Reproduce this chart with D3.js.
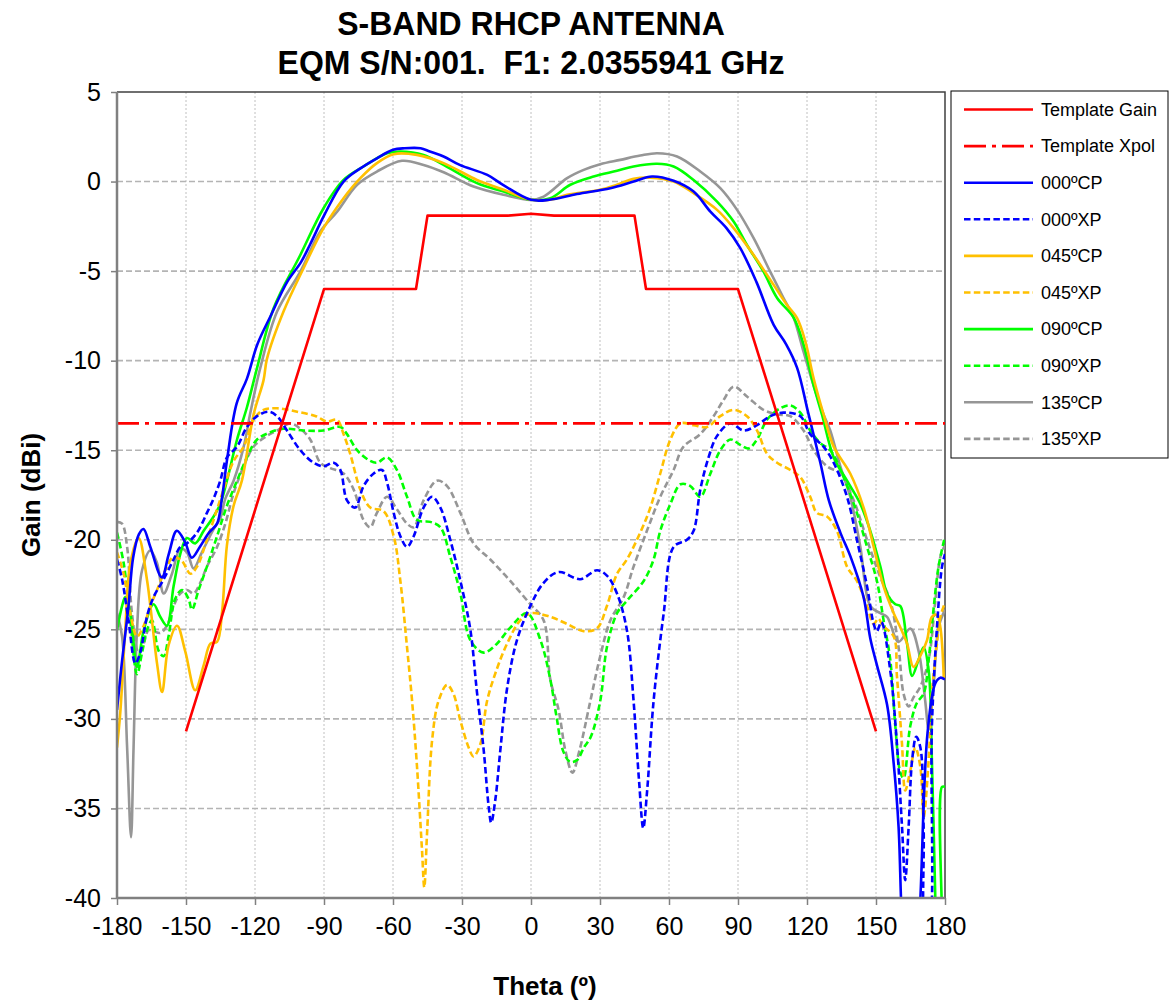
<!DOCTYPE html>
<html>
<head>
<meta charset="utf-8">
<script src="https://cdn.jsdelivr.net/npm/d3@7"></script>
<style>
  html, body { margin: 0; padding: 0; background: #ffffff; }
  svg { display: block; }
  text { font-family: "Liberation Sans", Arial, Helvetica, sans-serif; fill: #000; }
</style>
</head>
<body>
<svg id="chart" width="1176" height="1000"></svg>
<script>
// ---- Data: theta (deg) / gain (dBi) pairs ----
const titleLines = ["S-BAND RHCP ANTENNA", "EQM S/N:001.  F1: 2.0355941 GHz"];
const xTicks = [-180, -150, -120, -90, -60, -30, 0, 30, 60, 90, 120, 150, 180];
const yTicks = [5, 0, -5, -10, -15, -20, -25, -30, -35, -40];

const templateGain = [[-150,-30.7],[-90,-6],[-50,-6],[-45,-1.9],[-10,-1.9],[0,-1.8],[10,-1.9],[45,-1.9],[50,-6],[90,-6],[150,-30.7]];
const templateXpol = [[-180,-13.5],[180,-13.5]];

const cp000 = [[-180,-29.5],[-178,-27],[-175,-23.7],[-173,-21],[-170.5,-19.7],[-168.5,-19.4],[-165.5,-20.4],[-160.5,-22.1],[-157.5,-20.8],[-154,-19.5],[-150.5,-20.1],[-147.5,-21],[-144,-20.4],[-140,-19.6],[-136.5,-19.1],[-134.5,-17.8],[-132,-15.4],[-128,-12.4],[-123.5,-11],[-119,-9.1],[-113,-7.45],[-106,-5.6],[-100,-4.5],[-96,-3.5],[-90,-1.9],[-81.5,0],[-74,0.75],[-67,1.3],[-60,1.77],[-55,1.86],[-48,1.86],[-44,1.68],[-38,1.4],[-31,0.93],[-19,0.37],[-12,-0.2],[0,-1.02],[8,-1.02],[20,-0.7],[34.5,-0.37],[44.6,0],[52.6,0.28],[62,0.04],[70.7,-0.56],[78,-1.68],[85,-2.6],[91,-3.72],[98,-5.6],[105.5,-8.0],[111,-9.1],[115.7,-10.4],[120.5,-12.9],[125.8,-15.7],[129.5,-17.8],[134.5,-19.6],[138.8,-20.9],[144.6,-23.2],[147.5,-25.5],[150.4,-27],[154.8,-29.2],[157.7,-32.5],[159.8,-36],[161,-40.5],[163,-46],[167,-46],[169.3,-40],[172.4,-30.8],[175.8,-28],[178,-27.7],[180,-27.8]];

const cp045 = [[-180,-31.6],[-178.6,-29.7],[-176.4,-25],[-174.2,-21.3],[-170.6,-19.9],[-167,-22.2],[-162.6,-26.9],[-160.4,-28.5],[-157.6,-25.9],[-153.9,-24.8],[-150.3,-26.25],[-146,-28.4],[-142.3,-27],[-139.4,-25.8],[-136.5,-25.7],[-134.3,-24],[-132.2,-20.3],[-129.3,-18.1],[-125.7,-16.7],[-120.6,-13],[-116.3,-11.1],[-114.8,-9.9],[-107.6,-7.26],[-98.9,-4.84],[-90.2,-2.6],[-81.5,-0.93],[-74.2,0.19],[-67,1.03],[-59.7,1.53],[-49.6,1.49],[-38,1.03],[-23.5,0.09],[-11.9,-0.46],[0,-1.02],[8.4,-1.02],[15.7,-0.74],[30.1,-0.46],[37.4,-0.18],[44.6,0.15],[51.9,0.22],[62,0],[70.7,-0.65],[80.9,-1.58],[88.1,-2.6],[96.8,-4.1],[105.5,-5.77],[111.3,-6.89],[115.7,-7.63],[119.3,-8.94],[122.9,-11],[127.2,-13],[131.6,-14.8],[138.8,-16.3],[144.6,-18.2],[149,-20.4],[153.3,-22.6],[157.7,-24.1],[160.6,-24.9],[163.5,-25.8],[166.3,-27.1],[169.2,-26.5],[172.2,-25.6],[174.3,-24.3],[176.5,-24.2],[178,-24.9],[179.5,-27.8]];

const cp090 = [[-180,-25.05],[-177.8,-23.7],[-176.4,-23.2],[-174.2,-24.1],[-171.3,-27.1],[-168.4,-25.05],[-164.1,-23.6],[-161.2,-24.3],[-158.3,-24.8],[-155.4,-22.6],[-152.5,-20.8],[-149.6,-19.9],[-146,-20.2],[-142.3,-19.5],[-138,-18.7],[-135.1,-18],[-132.2,-16.7],[-127.8,-14.4],[-123.5,-12.6],[-119.1,-10.4],[-111.9,-7.07],[-100.3,-4.1],[-90.2,-1.49],[-81.5,0.09],[-72.8,0.84],[-62.6,1.58],[-56.8,1.68],[-46.7,1.49],[-38,0.93],[-23.5,-0.09],[-11.9,-0.56],[0,-1.02],[8.4,-0.93],[17.1,-0.18],[27.2,0.28],[37.4,0.6],[44.6,0.84],[54.8,0.99],[62,0.84],[70.7,0.09],[80.9,-1.12],[88.1,-2.23],[93.9,-3.54],[101.1,-5.03],[107,-6.5],[114.2,-7.6],[118.5,-9.1],[122.9,-11.4],[126.5,-13],[131.6,-15.4],[137.4,-16.7],[143.2,-18],[147.5,-19.5],[151.9,-21.5],[154.8,-23],[158.4,-23.6],[160.6,-23.7],[163.5,-25.8],[165.7,-27.6],[168.5,-26.7],[170.7,-26],[172.9,-27.3],[174.3,-32.3],[175.8,-40.1],[177,-46],[178.3,-46],[178.7,-33.8],[180,-33.8]];

const cp135 = [[-180,-24.1],[-177.8,-25.4],[-175.6,-31.6],[-173.9,-36.6],[-172.8,-31.6],[-171.3,-25.05],[-169.1,-21.7],[-165.5,-20.6],[-162.6,-21.3],[-159.7,-23],[-156.1,-21.9],[-152.5,-20.5],[-149.6,-20.7],[-146.7,-21.6],[-143.1,-20.7],[-138,-19.4],[-135.1,-18.8],[-132.9,-17.7],[-129.3,-16.7],[-124.9,-14.8],[-122,-12.9],[-117.7,-10.4],[-110.4,-7.26],[-100.3,-5.03],[-91.6,-2.79],[-84.3,-1.68],[-75.6,-0.18],[-67,0.56],[-56.1,1.16],[-46.7,0.93],[-38,0.52],[-25,-0.28],[-11.9,-0.74],[0,-1.02],[5.5,-0.84],[15.7,0.19],[22.9,0.65],[30.1,0.97],[38.8,1.21],[47.5,1.45],[54.8,1.58],[63.5,1.4],[73.6,0.56],[82.3,-0.37],[89.6,-1.58],[96.8,-3.16],[104,-5.03],[109.8,-6.5],[114.2,-7.6],[118.5,-9.5],[122.9,-11.4],[127.2,-13],[130.1,-13.9],[134.5,-15.9],[138.8,-17.6],[143.2,-20.4],[147.5,-23.7],[151.9,-24.1],[154.8,-24.3],[159.8,-25.7],[164.9,-24.95],[168.5,-26.2],[171.4,-29],[172.9,-30.6],[175,-28.2],[177.2,-24.9],[180,-23.9]];

const xp000 = [[-180,-21.1],[-177.8,-22.2],[-175,-24.5],[-172,-26.9],[-169.9,-26.3],[-167,-24.3],[-164.1,-23.2],[-159.7,-22.2],[-155.4,-21.1],[-152.5,-20.4],[-149.6,-20.2],[-145.2,-19.6],[-140.9,-18.5],[-138,-17.7],[-135.1,-16.7],[-132.2,-15.4],[-127.8,-14.8],[-123.5,-13.7],[-119.1,-13.1],[-114.1,-12.85],[-110.4,-13.1],[-106.1,-13.9],[-100.3,-15],[-94.5,-15.7],[-90.2,-15.9],[-85.8,-15.7],[-82.9,-16.1],[-80,-17.8],[-76.4,-18.2],[-72.8,-17],[-68.4,-16.3],[-64.8,-16.1],[-62.6,-16.8],[-59.7,-18.5],[-56.8,-19.8],[-53.9,-20.4],[-51,-19.8],[-46.7,-18.2],[-43,-17.6],[-39.4,-18.2],[-35.1,-20],[-30.7,-22.3],[-26.4,-25],[-23.5,-28.5],[-20.6,-31.7],[-18.4,-34.9],[-17.3,-35.8],[-15.5,-34.5],[-13.3,-31.7],[-10.4,-28.3],[-6.1,-25.6],[-0.3,-23.7],[5.5,-22.4],[12,-21.8],[21.4,-22.2],[28.7,-21.7],[33,-22],[37.4,-23],[41.7,-25.05],[44.6,-29],[47,-33.5],[48.8,-36.1],[50.5,-34],[53.3,-29],[57.7,-24.1],[62,-20.4],[67.8,-20],[70.7,-19.5],[73.6,-17.2],[77.2,-15.4],[80.9,-14.2],[86.7,-13.5],[92.4,-13.9],[98.3,-13.6],[104,-13.1],[109.8,-12.9],[117.1,-13.1],[121.4,-14.1],[127.2,-14.8],[131.6,-15.7],[137.4,-17.6],[141.7,-20],[146.1,-22.6],[149,-24.7],[150.4,-25.1],[152.3,-24.6],[156.2,-27.3],[159.1,-31.4],[161.3,-36],[162.7,-39],[164.2,-36],[165.7,-32.3],[167.5,-31],[169.3,-31.6],[170.7,-36],[171.6,-42],[172.8,-42],[174.3,-30.4],[176.5,-24.9],[178.7,-21.5],[180,-20.8]];

const xp045 = [[-180,-20.7],[-177.1,-21.9],[-174.2,-24.1],[-171.3,-25.4],[-168.4,-24.8],[-165.5,-23.7],[-162.6,-22.8],[-159,-21.7],[-155.4,-20.95],[-151.7,-21.2],[-148.1,-21.9],[-145.2,-21.5],[-140.9,-20],[-136.5,-18.3],[-133.7,-17.2],[-129.3,-15.6],[-124.9,-14.8],[-120.6,-13.3],[-116.3,-12.75],[-110.4,-12.66],[-101.7,-12.85],[-93.5,-13.1],[-88.7,-13.4],[-84.3,-13.3],[-81.5,-14.1],[-78.6,-15.2],[-74.2,-17.2],[-69.9,-18.2],[-64.1,-18.4],[-59.7,-19.8],[-56.8,-22.3],[-53.9,-26],[-51.7,-29],[-49.6,-32.6],[-47.4,-37.3],[-46.4,-39.4],[-45.2,-36.4],[-43,-31.2],[-40.2,-29],[-36.5,-28.1],[-33.7,-28.6],[-30.7,-30.1],[-27.1,-31.6],[-25,-32.1],[-22,-31.4],[-19.1,-29],[-14.8,-27.2],[-10.4,-25.8],[-4.7,-24.5],[0,-24.1],[8.4,-24.3],[15.7,-24.7],[22.9,-25.1],[28.7,-24.95],[33,-23.7],[37.4,-21.9],[41.7,-21.1],[47.5,-19.6],[51.9,-18.2],[56.2,-16.3],[60.6,-14.4],[65,-13.5],[70.7,-13.6],[76.5,-13.7],[82.3,-13.1],[88.1,-12.75],[93.9,-13.1],[98.3,-13.9],[102.6,-15.2],[107,-15.7],[112.7,-16.1],[117.1,-16.5],[121.4,-17.6],[124.3,-18.5],[128.7,-18.7],[133,-19.5],[137.4,-21.5],[141.7,-22.3],[146.1,-23.7],[149,-24.7],[151,-24.4],[153,-24.8],[157.7,-25.4],[159.1,-27.6],[161.3,-31.4],[162.7,-34],[164.9,-32.9],[167.1,-31.6],[169.3,-32.7],[170.7,-35.5],[172.9,-32.3],[174.3,-28.6],[176.5,-25.8],[178,-24.3],[180,-23.5]];

const xp090 = [[-180,-19.6],[-177.1,-21.3],[-174.2,-24.5],[-171.3,-27.5],[-169.1,-26.3],[-167,-25.05],[-164.8,-24.5],[-161.9,-26.2],[-159.7,-26.5],[-157.6,-25.4],[-154.7,-23.3],[-151.7,-22.8],[-148.9,-23.3],[-147.4,-23.9],[-144.5,-22.8],[-140.9,-21.5],[-136.5,-19.8],[-132.2,-18.1],[-127.8,-16.7],[-123.5,-15.4],[-119.1,-14.4],[-113.3,-14],[-107.6,-13.8],[-98.9,-13.9],[-90.2,-13.9],[-82.9,-13.7],[-80,-14.1],[-75.6,-15],[-69.9,-15.6],[-67,-15.7],[-62.6,-15.4],[-58.3,-16.1],[-53.9,-17.6],[-49.6,-18.9],[-43.8,-19],[-39.4,-19.3],[-35.1,-20.95],[-30.7,-23],[-26.4,-25.6],[-20.6,-26.3],[-14.8,-25.8],[-9,-24.9],[-1.7,-24.1],[4.1,-25.6],[8.4,-27.8],[11,-29.8],[14,-31.8],[17,-32.4],[20,-32.3],[23,-31.6],[26,-31],[30.1,-29],[33,-26],[37.4,-24.1],[41.7,-23.4],[49,-22.3],[53.3,-21.1],[56.2,-19.5],[60.6,-18],[65,-16.9],[69.3,-17],[73.6,-17.6],[78,-16.3],[82.3,-15],[86.7,-14.4],[91,-14.7],[94.6,-14.9],[98.3,-14.4],[102.6,-13.3],[108.4,-12.66],[112.7,-12.5],[117.1,-12.9],[121.4,-13.9],[125.8,-14.6],[130.1,-15],[135.9,-16.5],[141.7,-18.5],[146.1,-20.4],[150.4,-22.3],[153.3,-24.5],[156.2,-26.7],[158.4,-30.4],[160.6,-33],[162,-33.3],[164.9,-30.4],[167.8,-29.1],[170.7,-28.6],[172.9,-26.7],[175,-23.9],[177.2,-21.5],[180,-19.8]];

const xp135 = [[-180,-19],[-177.8,-19.1],[-175.6,-20.4],[-173.5,-24.1],[-170.6,-26.3],[-168.4,-25.8],[-166.3,-25.05],[-164.1,-25.1],[-161.2,-25.2],[-158.3,-24.8],[-155.4,-23.7],[-152.5,-23],[-149.6,-22.8],[-146.7,-23],[-143.8,-22.4],[-140.9,-21.5],[-136.5,-20.4],[-132.9,-19.1],[-129.3,-17.4],[-124.9,-15.9],[-120.6,-14.8],[-114.8,-14.2],[-110.4,-13.9],[-104.7,-13.5],[-100.3,-13.8],[-96,-14.4],[-91.6,-15.7],[-87.3,-16],[-81.5,-16.3],[-77.1,-17.2],[-72.8,-18.9],[-69.9,-19.3],[-67,-18.5],[-62.6,-17.6],[-58.3,-18.3],[-53.9,-19.1],[-51,-19.3],[-46.7,-17.8],[-40.9,-16.7],[-36.5,-17],[-30.7,-18.5],[-25,-20.2],[-17.7,-21.1],[-9,-22.3],[-0.3,-23.6],[5.5,-24.5],[8.4,-27.8],[12,-29.5],[15,-31.8],[18,-33],[21,-31.8],[25.8,-29],[30.1,-26.5],[34.5,-24.5],[40.3,-23.2],[44.6,-21.5],[50.4,-19.5],[56.2,-17.6],[62,-16.1],[66.3,-14.8],[73.6,-14.1],[79.4,-13.1],[83.7,-12.2],[88.1,-11.45],[93.9,-12],[101.1,-12.75],[107,-13],[112.7,-13.1],[118.5,-13.9],[122.9,-15],[128.7,-15.9],[134.5,-16.3],[140.3,-17.8],[146.1,-20],[151.9,-22.1],[156.2,-23.4],[159.8,-26],[162,-28.6],[164.2,-29.3],[166.3,-28.8],[169.3,-28.2],[172.9,-26.7],[175.8,-23.4],[178,-20.95],[180,-20.3]];

// ---- Series styling ----
const series = [
  { name: "Template Gain", data: templateGain, color: "#FF0000", dash: null, smooth: false },
  { name: "Template Xpol", data: templateXpol, color: "#FF0000", dash: "22,6,4,6", smooth: false },
  { name: "000ºCP", data: cp000, color: "#0000FF", dash: null, smooth: true },
  { name: "000ºXP", data: xp000, color: "#0000FF", dash: "6.5,3.3", smooth: true },
  { name: "045ºCP", data: cp045, color: "#FFC000", dash: null, smooth: true },
  { name: "045ºXP", data: xp045, color: "#FFC000", dash: "6.5,3.3", smooth: true },
  { name: "090ºCP", data: cp090, color: "#00FF00", dash: null, smooth: true },
  { name: "090ºXP", data: xp090, color: "#00FF00", dash: "6.5,3.3", smooth: true },
  { name: "135ºCP", data: cp135, color: "#969696", dash: null, smooth: true },
  { name: "135ºXP", data: xp135, color: "#969696", dash: "6.5,3.3", smooth: true }
];
// drawing order: measured curves first, templates on top
const drawOrder = [8, 9, 6, 7, 4, 5, 2, 3, 0, 1];

// ---- Layout ----
const svg = d3.select("#chart");
const plot = { left: 117, right: 945, top: 92, bottom: 898 };

const x = d3.scaleLinear().domain([-180, 180]).range([plot.left, plot.right]);
const y = d3.scaleLinear().domain([-40, 5]).range([plot.bottom, plot.top]);

svg.append("defs").append("clipPath").attr("id", "plotClip")
  .append("rect")
  .attr("x", plot.left).attr("y", plot.top)
  .attr("width", plot.right - plot.left).attr("height", plot.bottom - plot.top);

// Title (slightly condensed bold face), one text element per line
titleLines.forEach((line, i) => {
  svg.append("text")
    .attr("transform", `translate(531,${i === 0 ? 35 : 74}) scale(0.97,1)`)
    .attr("text-anchor", "middle")
    .attr("xml:space", "preserve")
    .style("font-weight", "bold").style("font-size", "33px")
    .text(line);
});

// Grid: vertical dotted, horizontal dashed
svg.append("g").selectAll("line").data(xTicks.slice(1, -1)).join("line")
  .attr("x1", d => x(d)).attr("x2", d => x(d))
  .attr("y1", plot.top).attr("y2", plot.bottom)
  .attr("stroke", "#c0c0c0").attr("stroke-width", 1).attr("stroke-dasharray", "2,2");

svg.append("g").selectAll("line").data(yTicks.slice(1, -1)).join("line")
  .attr("x1", plot.left).attr("x2", plot.right)
  .attr("y1", d => y(d)).attr("y2", d => y(d))
  .attr("stroke", "#b4b4b4").attr("stroke-width", 1.6).attr("stroke-dasharray", "6,3");

// Frame: top and right border
svg.append("path")
  .attr("d", `M${plot.left},${plot.top}H${plot.right}V${plot.bottom}`)
  .attr("fill", "none").attr("stroke", "#404040").attr("stroke-width", 1.5);

// Curves
const lineSmooth = d3.line().x(d => x(d[0])).y(d => y(d[1])).curve(d3.curveCatmullRom.alpha(0.5));
const lineStraight = d3.line().x(d => x(d[0])).y(d => y(d[1]));

const curves = svg.append("g").attr("clip-path", "url(#plotClip)");
drawOrder.forEach(i => {
  const s = series[i];
  curves.append("path")
    .attr("d", (s.smooth ? lineSmooth : lineStraight)(s.data))
    .attr("fill", "none")
    .attr("stroke", s.color)
    .attr("stroke-width", 2.6)
    .attr("stroke-linejoin", "round")
    .attr("stroke-dasharray", s.dash);
});

// Axes (plain hyphen for negative labels)
const fmt = d => String(d);
const xAxis = d3.axisBottom(x).tickValues(xTicks).tickSize(7).tickPadding(12).tickFormat(fmt);
const yAxis = d3.axisLeft(y).tickValues(yTicks).tickSize(6).tickPadding(10).tickFormat(fmt);

const gx = svg.append("g").attr("transform", `translate(0,${plot.bottom})`).call(xAxis);
const gy = svg.append("g").attr("transform", `translate(${plot.left},0)`).call(yAxis);

[gx, gy].forEach(g => {
  g.select(".domain").attr("stroke", "#808080").attr("stroke-width", 2.5);
  g.selectAll(".tick line").attr("stroke", "#808080").attr("stroke-width", 1.5);
  g.selectAll(".tick text")
    .style("font-family", "'Liberation Sans', Arial, sans-serif")
    .style("font-size", "25px").attr("fill", "#000");
});
gx.select(".domain").attr("d", `M${plot.left},0H${plot.right}`);
gy.select(".domain").attr("d", `M0,${plot.top}V${plot.bottom}`);

// Axis titles
svg.append("text")
  .attr("x", 545).attr("y", 995)
  .attr("text-anchor", "middle")
  .style("font-weight", "bold").style("font-size", "26px")
  .text("Theta (º)");

svg.append("text")
  .attr("transform", "translate(40,495) rotate(-90)")
  .attr("text-anchor", "middle")
  .style("font-weight", "bold").style("font-size", "26px")
  .text("Gain (dBi)");

// Legend
const legend = svg.append("g");
legend.append("rect")
  .attr("x", 951).attr("y", 91).attr("width", 217).attr("height", 367)
  .attr("fill", "#fff").attr("stroke", "#000").attr("stroke-width", 1);

series.forEach((s, i) => {
  const cy = 109.5 + i * 36.6;
  legend.append("line")
    .attr("x1", 964).attr("x2", 1033).attr("y1", cy).attr("y2", cy)
    .attr("stroke", s.color).attr("stroke-width", 2.6)
    .attr("stroke-dasharray", s.dash);
  legend.append("text")
    .attr("x", 1041).attr("y", cy).attr("dy", "0.35em")
    .style("font-size", "18px")
    .text(s.name);
});
</script>
</body>
</html>
